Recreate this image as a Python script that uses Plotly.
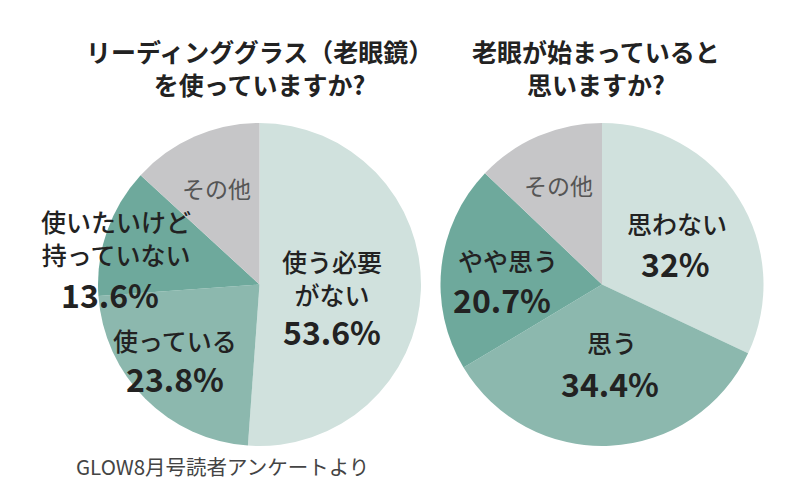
import plotly.graph_objects as go

W, H = 800, 482

# ---- data ----
left_title = ["リーディンググラス（老眼鏡）", "を使っていますか?"]
left_labels = ["使う必要がない", "使っている", "使いたいけど持っていない", "その他"]
left_values = [53.6, 23.8, 13.6, 13.8]

right_title = ["老眼が始まっていると", "思いますか?"]
right_labels = ["思わない", "思う", "やや思う", "その他"]
right_values = [32.0, 34.4, 20.7, 12.9]

source = "GLOW8月号読者アンケートより"

# ---- style ----
FONT = "Noto Sans CJK JP"
C_LIGHT = "#d0e1dd"
C_MID = "#8cb8ae"
C_DARK = "#6ea99c"
C_GRAY = "#c6c6c8"
TXT = "#222222"

def px(x, y):
    return x / W, 1 - y / H

fig = go.Figure()

def add_pie(labels, values, colors, x0, x1, y0, y1):
    fig.add_trace(go.Pie(
        labels=labels, values=values, sort=False, direction="clockwise",
        rotation=0, marker=dict(colors=colors, line=dict(width=0)),
        textinfo="none", hoverinfo="label+value", showlegend=False,
        domain=dict(x=[x0 / W, x1 / W], y=[1 - y1 / H, 1 - y0 / H]),
    ))

add_pie(left_labels, left_values, [C_LIGHT, C_MID, C_DARK, C_GRAY], 97, 422, 123, 446)
add_pie(right_labels, right_values, [C_LIGHT, C_MID, C_DARK, C_GRAY], 440, 764, 123, 446)

ann = []

def text(x, y, s, size, color=TXT, weight=500):
    ax, ay = px(x, y)
    ann.append(dict(x=ax, y=ay, xref="paper", yref="paper", text=s, showarrow=False,
                    xanchor="center", yanchor="middle",
                    font=dict(family=FONT, size=size, color=color, weight=weight)))

def pct(v):
    return f"{v:g}%"

# titles
text(259, 68, left_title[0] + "<br>" + left_title[1], 25, weight=700)
text(596, 68, right_title[0] + "<br>" + right_title[1], 25, weight=700)

# left pie labels
text(332, 277, left_labels[0][:4] + "<br>" + left_labels[0][4:], 25)
text(332, 331, pct(left_values[0]), 32, weight=700)
text(175, 340, left_labels[1], 25)
text(175, 378, pct(left_values[1]), 32, weight=700)
text(116, 237, left_labels[2][:6] + "<br>" + left_labels[2][6:], 25)
text(110, 294, pct(left_values[2]), 32, weight=700)
text(216, 188, left_labels[3], 23, color="#555555", weight=400)

# right pie labels
text(677, 223, right_labels[0], 25)
text(675, 263, pct(right_values[0]), 32, weight=700)
text(612, 342, right_labels[1], 25)
text(610, 383, pct(right_values[1]), 32, weight=700)
text(508, 260, right_labels[2], 25)
text(502, 299, pct(right_values[2]), 32, weight=700)
text(558, 185, right_labels[3], 23, color="#555555", weight=400)

# source
sx, sy = px(74, 466)
ann.append(dict(x=sx, y=sy, xref="paper", yref="paper", text=source, showarrow=False,
                xanchor="left", yanchor="middle",
                font=dict(family=FONT, size=20.5, color="#444444", weight=400)))

fig.update_layout(
    width=W, height=H, margin=dict(l=0, r=0, t=0, b=0),
    paper_bgcolor="white", plot_bgcolor="white",
    annotations=ann, font=dict(family=FONT),
)

fig.write_html("out.html", config={"displayModeBar": False},
               post_script="document.body.style.margin='0';document.body.style.padding='0';document.body.style.overflow='hidden';")
